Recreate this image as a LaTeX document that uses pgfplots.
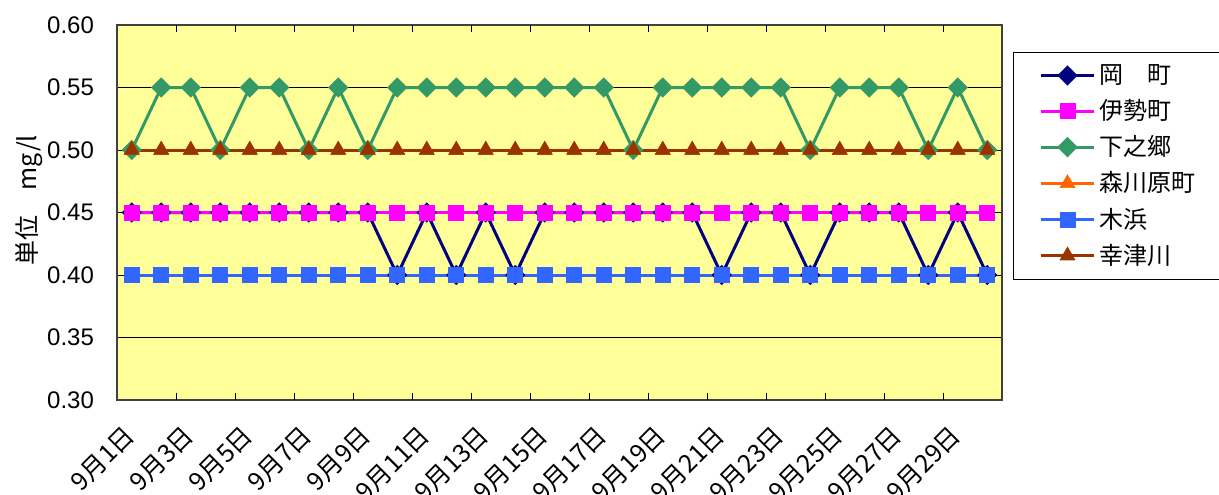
\documentclass[border=0pt]{standalone}
\usepackage{pgfplots}
\usepackage{pgfplotstable}
\pgfplotsset{compat=1.18}
\usepackage{fontspec}
\setmainfont{Liberation Sans}
\newfontfamily\jp{Noto Sans CJK JP}

\definecolor{cOka}{HTML}{000080}
\definecolor{cIse}{HTML}{FF00FF}
\definecolor{cShimo}{HTML}{339966}
\definecolor{cMori}{HTML}{FF6600}
\definecolor{cKihama}{HTML}{3366FF}
\definecolor{cKozu}{HTML}{993300}
\definecolor{plotbg}{HTML}{FFFF99}

% day, 岡町, 伊勢町, 下之郷, 森川原町, 木浜, 幸津川
\pgfplotstableread{
day oka  ise  shimo mori kihama kozu
1   0.45 0.45 0.50  0.50 0.40   0.50
2   0.45 0.45 0.55  0.50 0.40   0.50
3   0.45 0.45 0.55  0.50 0.40   0.50
4   0.45 0.45 0.50  0.50 0.40   0.50
5   0.45 0.45 0.55  0.50 0.40   0.50
6   0.45 0.45 0.55  0.50 0.40   0.50
7   0.45 0.45 0.50  0.50 0.40   0.50
8   0.45 0.45 0.55  0.50 0.40   0.50
9   0.45 0.45 0.50  0.50 0.40   0.50
10  0.40 0.45 0.55  0.50 0.40   0.50
11  0.45 0.45 0.55  0.50 0.40   0.50
12  0.40 0.45 0.55  0.50 0.40   0.50
13  0.45 0.45 0.55  0.50 0.40   0.50
14  0.40 0.45 0.55  0.50 0.40   0.50
15  0.45 0.45 0.55  0.50 0.40   0.50
16  0.45 0.45 0.55  0.50 0.40   0.50
17  0.45 0.45 0.55  0.50 0.40   0.50
18  0.45 0.45 0.50  0.50 0.40   0.50
19  0.45 0.45 0.55  0.50 0.40   0.50
20  0.45 0.45 0.55  0.50 0.40   0.50
21  0.40 0.45 0.55  0.50 0.40   0.50
22  0.45 0.45 0.55  0.50 0.40   0.50
23  0.45 0.45 0.55  0.50 0.40   0.50
24  0.40 0.45 0.50  0.50 0.40   0.50
25  0.45 0.45 0.55  0.50 0.40   0.50
26  0.45 0.45 0.55  0.50 0.40   0.50
27  0.45 0.45 0.55  0.50 0.40   0.50
28  0.40 0.45 0.50  0.50 0.40   0.50
29  0.45 0.45 0.55  0.50 0.40   0.50
30  0.40 0.45 0.50  0.50 0.40   0.50
}\datatable

\pgfplotsset{
  ser/.style={color=#1, line width=1.5pt, mark options={solid, fill=#1, draw=#1, line width=0.3pt}},
}

\begin{document}
\begin{tikzpicture}
\begin{axis}[
    scale only axis,
    width=442.5pt, height=187.5pt,
    xmin=0.5, xmax=30.5,
    ymin=0.3, ymax=0.6,
    axis background/.style={fill=plotbg},
    axis line style={draw=black!75, line width=1pt},
    xtick={1,3,...,29},
    xticklabels={9月1日,9月3日,9月5日,9月7日,9月9日,9月11日,9月13日,9月15日,9月17日,9月19日,9月21日,9月23日,9月25日,9月27日,9月29日},
    x tick style={draw=none},
    xticklabel style={font=\jp\fontsize{12.5}{14}\selectfont, anchor=north east, inner sep=0pt, xshift=-4.5pt, yshift=-11.5pt, rotate=45},
    extra x ticks={2.5,4.5,...,28.5},
    extra x tick labels={},
    extra x tick style={major tick length=3.5pt, tick align=inside, x tick style={draw=black, line width=0.5pt}},
    ytick={0.3,0.35,0.4,0.45,0.5,0.55,0.6},
    y tick style={draw=none},
    ymajorgrids,
    major grid style={black, line width=0.5pt},
    yticklabel style={font=\fontsize{12}{14}\selectfont, xshift=-8pt},
    /pgf/number format/.cd, fixed, fixed zerofill, precision=2, assume math mode=true,
    /pgfplots/.cd,
    ylabel={単位　mg/l},
    every axis y label/.style={at={(rel axis cs:0,0.533)}, xshift=-44pt, rotate=90, anchor=center, font=\jp\fontsize{12.5}{14}\selectfont},
    legend style={at={(rel axis cs:1,1)}, anchor=north west, xshift=5.5pt, yshift=-13.5pt,
        draw=black, line width=0.5pt, fill=white,
        font=\jp\fontsize{12}{14}\selectfont,
        inner xsep=13pt, inner ysep=4pt, row sep=2.5pt,
        /tikz/every even column/.append style={text width=50pt}},
    legend cell align=left,
    legend image code/.code={\draw[mark repeat=2, mark phase=2] plot coordinates {(0pt,0pt) (13.25pt,0pt) (26.5pt,0pt)};},
]
\coordinate (bl) at (rel axis cs:0,0);
\coordinate (tr) at (rel axis cs:1,1);
\addplot[ser=cOka, mark=square*, mark size=2.85pt, mark options={rotate=45}] table[x=day, y=oka] {\datatable};
\addlegendentry{岡　町}
\addplot[ser=cIse, mark=square*, mark size=3.75pt] table[x=day, y=ise] {\datatable};
\addlegendentry{伊勢町}
\addplot[ser=cShimo, mark=square*, mark size=2.85pt, mark options={rotate=45}] table[x=day, y=shimo] {\datatable};
\addlegendentry{下之郷}
\addplot[ser=cMori, mark=triangle*, mark size=4.3pt] table[x=day, y=mori] {\datatable};
\addlegendentry{森川原町}
\addplot[ser=cKihama, mark=square*, mark size=3.75pt] table[x=day, y=kihama] {\datatable};
\addlegendentry{木浜}
\addplot[ser=cKozu, mark=triangle*, mark size=4.3pt] table[x=day, y=kozu] {\datatable};
\addlegendentry{幸津川}
\end{axis}
\pgfresetboundingbox
\path ([shift={(-58.5pt,-47pt)}]bl) rectangle ([shift={(108.5pt,12.5pt)}]tr);
\end{tikzpicture}
\end{document}
